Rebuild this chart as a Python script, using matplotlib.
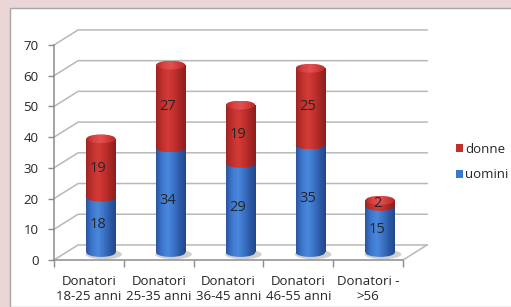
import numpy as np
import matplotlib.pyplot as plt
from matplotlib.patches import Rectangle, Ellipse
from matplotlib.colors import LinearSegmentedColormap

# =====================
# DATA
# =====================
categories = ["Donatori\n18-25 anni", "Donatori\n25-35 anni", "Donatori\n36-45 anni",
              "Donatori\n46-55 anni", "Donatori -\n>56"]
uomini = [18, 34, 29, 35, 15]
donne = [19, 27, 19, 25, 2]
yticks = [0, 10, 20, 30, 40, 50, 60, 70]

# =====================
# STYLE
# =====================
plt.rcParams["font.family"] = ["Open Sans", "DejaVu Sans"]
W, H = 511, 307
DX, DY = 0.345, 4.9        # depth offset of the back wall (data units)
BAR_W = 0.42
ELL_H = 2.9
TEXT = "#262626"
GRID = "#b8b8b8"

blue_cm = LinearSegmentedColormap.from_list(
    "b", ["#2a56a0", "#3d78cf", "#4a88dc", "#3b73c6", "#2c5aa6", "#22488a"])
red_cm = LinearSegmentedColormap.from_list(
    "r", ["#9e2523", "#c2302d", "#d23c38", "#c5312e", "#a82724", "#8c1f1d"])
red_top_cm = LinearSegmentedColormap.from_list(
    "rt", ["#b02a28", "#d94442", "#e05250", "#d03b38", "#b22b28"])
grad = np.linspace(0, 1, 64).reshape(1, -1)

fig = plt.figure(figsize=(W / 100, H / 100), dpi=100)
fig.patch.set_facecolor("#ead6d7")
fig.patches.append(Rectangle((10 / W, 0), 1, 1 - 8 / H, transform=fig.transFigure,
                             facecolor="white", edgecolor="#a6a6a6", lw=1, zorder=-5))

ax = fig.add_axes([54 / W, 47 / H, 349 / W, 215 / H])
ax.set_facecolor("none")
n = len(categories)

# back wall gridlines + left wall diagonals
for v in yticks:
    ax.plot([0, DX, n + DX], [v, v + DY, v + DY], color=GRID, lw=1.1, clip_on=False, zorder=1)
# floor right edge
ax.plot([n, n + DX], [0, DY], color=GRID, lw=1.1, clip_on=False, zorder=1)


def grad_patch(patch, cmap, z):
    ax.add_patch(patch)
    patch.set_visible(False)
    x0, y0, x1, y1 = patch.get_extents().transformed(ax.transData.inverted()).extents
    im = ax.imshow(grad, cmap=cmap, extent=[x0, x1, y0, y1], aspect="auto",
                   interpolation="bilinear", zorder=z)
    im.set_clip_path(patch)


for i in range(n):
    cx = i + 0.5 + DX / 2
    base = DY / 2
    b = uomini[i]
    t = uomini[i] + donne[i]
    x0 = cx - BAR_W / 2
    z = 3 + i * 0.1
    # soft floor shadow
    ax.add_patch(Ellipse((cx + 0.04, base - 0.6), BAR_W * 1.25, ELL_H * 1.1,
                         facecolor="#7a7a7a", alpha=0.35, lw=0, zorder=z - 0.05))
    # uomini segment
    grad_patch(Ellipse((cx, base), BAR_W, ELL_H), blue_cm, z)
    grad_patch(Rectangle((x0, base), BAR_W, b), blue_cm, z)
    # donne segment
    grad_patch(Ellipse((cx, base + b), BAR_W, ELL_H), red_cm, z + 0.01)
    grad_patch(Rectangle((x0, base + b), BAR_W, donne[i]), red_cm, z + 0.01)
    grad_patch(Ellipse((cx, base + t), BAR_W, ELL_H), red_top_cm, z + 0.02)
    # value labels
    ax.text(cx - 0.04, base + b / 2, str(uomini[i]), ha="center", va="center",
            fontsize=10.5, color=TEXT, zorder=5)
    ax.text(cx - 0.04, base + b + donne[i] / 2 if donne[i] > 4 else base + t - 0.9,
            str(donne[i]), ha="center", va="center", fontsize=10.5, color=TEXT, zorder=5)

ax.set_xlim(0, n)
ax.set_ylim(0, 70)

for s in ["top", "right"]:
    ax.spines[s].set_visible(False)
for s in ["left", "bottom"]:
    ax.spines[s].set_color("#8c8c8c")
    ax.spines[s].set_linewidth(1.1)

ax.set_yticks(yticks)
ax.set_yticklabels([str(v) for v in yticks])
ax.tick_params(axis="y", length=4, width=1, color="#8c8c8c", pad=7,
               labelsize=9.5, labelcolor=TEXT)
ax.set_xticks(np.arange(n + 1))
ax.set_xticklabels([])
ax.set_xticks(np.arange(n) + 0.5, minor=True)
ax.set_xticklabels(categories, minor=True, fontsize=9.5, color=TEXT, linespacing=1.25)
ax.tick_params(axis="x", which="major", length=5, width=1, color="#8c8c8c")
ax.tick_params(axis="x", which="minor", length=0, pad=10.5)

# legend
handles = [Rectangle((0, 0), 1, 1, facecolor="#c2302d"),
           Rectangle((0, 0), 1, 1, facecolor="#3d78cf")]
fig.legend(handles, ["donne", "uomini"], loc="center left",
           bbox_to_anchor=(456 / W, 1 - 162 / H), frameon=False, fontsize=9.5,
           handlelength=0.55, handleheight=0.55, handletextpad=0.15, labelspacing=0.95,
           labelcolor=TEXT, borderpad=0, borderaxespad=0)

fig.savefig("out.png", dpi=100, facecolor=fig.get_facecolor())
